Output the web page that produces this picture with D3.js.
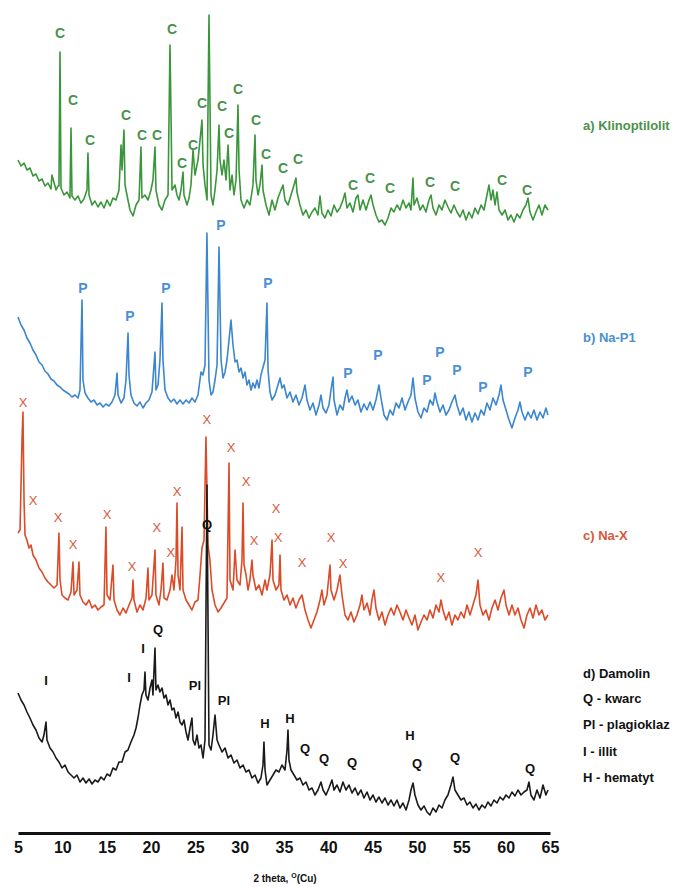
<!DOCTYPE html>
<html>
<head>
<meta charset="utf-8">
<script src="https://d3js.org/d3.v7.min.js"></script>
<style>
  body { margin: 0; background: #fff; }
  svg { display: block; font-family: "Liberation Sans", Arial, sans-serif; }
  .trace { fill: none; stroke-width: 1.6; stroke-linejoin: round; }
  .peak { text-anchor: middle; dominant-baseline: central; }
  .axis text { font-size: 16px; font-weight: bold; fill: #111; }
</style>
</head>
<body>
<svg width="683" height="887"></svg>
<script>
// 2 theta ticks
var ticks = [5, 10, 15, 20, 25, 30, 35, 40, 45, 50, 55, 60, 65];
var sampleNames = ["a) Klinoptilolit", "b) Na-P1", "c) Na-X", "d) Damolin"];
var phaseKey = ["Q - kwarc", "Pl - plagioklaz", "I - illit", "H - hematyt"];

// [2theta, intensity a.u.]
var klinoptilolit = [[5.0,73],[5.34,67],[5.68,70],[6.01,63],[6.35,65],[6.69,57],[7.03,59],[7.37,52],[7.71,54],[8.04,47],[8.38,50],[8.72,44],[8.83,58],[9.29,43],[9.51,47],[9.62,47],[9.74,181],[9.85,45],[10.19,38],[10.53,41],[10.86,35],[10.98,105],[11.09,37],[11.43,33],[11.77,37],[12.10,30],[12.44,34],[12.78,43],[12.89,80],[13.01,38],[13.35,28],[13.68,32],[14.02,26],[14.36,31],[14.70,25],[15.04,33],[15.38,27],[15.71,35],[16.05,33],[16.39,43],[16.62,88],[16.73,63],[16.95,103],[17.07,48],[17.29,38],[17.63,23],[17.97,17],[18.31,28],[18.65,33],[18.87,86],[18.98,35],[19.32,38],[19.66,33],[20.00,43],[20.22,53],[20.45,86],[20.56,43],[20.90,28],[21.24,23],[21.58,33],[21.92,38],[22.14,188],[22.25,123],[22.37,43],[22.71,48],[22.93,38],[23.16,33],[23.38,43],[23.61,61],[23.72,38],[24.06,28],[24.29,35],[24.51,48],[24.74,83],[24.96,58],[25.30,73],[25.53,93],[25.75,113],[25.87,68],[26.09,48],[26.32,33],[26.54,218],[26.77,38],[26.99,28],[27.22,43],[27.45,63],[27.67,108],[27.78,73],[28.01,58],[28.23,73],[28.46,53],[28.69,88],[28.91,43],[29.14,58],[29.36,38],[29.59,53],[29.81,128],[29.93,63],[30.15,33],[30.49,25],[30.83,33],[31.16,28],[31.50,48],[31.73,98],[31.84,53],[32.07,38],[32.29,48],[32.52,68],[32.63,43],[32.97,28],[33.31,18],[33.65,33],[33.98,23],[34.32,35],[34.66,43],[34.89,48],[35.11,33],[35.45,28],[35.79,38],[36.13,48],[36.35,55],[36.46,41],[36.80,28],[37.14,18],[37.48,23],[37.82,15],[38.16,21],[38.49,25],[38.83,18],[39.06,37],[39.28,20],[39.62,15],[39.96,23],[40.30,17],[40.64,28],[40.98,21],[41.31,25],[41.65,33],[41.88,40],[42.10,25],[42.44,30],[42.78,21],[43.12,35],[43.34,38],[43.57,23],[43.91,33],[44.25,23],[44.59,33],[44.81,38],[45.04,28],[45.37,18],[45.71,11],[46.05,13],[46.39,8],[46.73,15],[47.07,25],[47.40,21],[47.74,28],[48.08,23],[48.42,33],[48.76,25],[49.10,30],[49.32,23],[49.55,55],[49.66,28],[50.00,35],[50.34,23],[50.67,28],[51.01,21],[51.35,33],[51.58,38],[51.80,25],[52.14,18],[52.48,28],[52.82,23],[53.15,33],[53.49,26],[53.83,20],[54.17,28],[54.51,21],[54.85,16],[55.19,23],[55.53,13],[55.86,21],[56.20,15],[56.54,25],[56.88,19],[57.22,28],[57.56,23],[57.89,38],[58.12,48],[58.35,33],[58.57,43],[58.80,28],[59.02,41],[59.25,23],[59.59,18],[59.93,23],[60.26,13],[60.60,18],[60.94,11],[61.28,19],[61.61,15],[61.95,23],[62.29,28],[62.52,35],[62.74,21],[63.08,13],[63.42,21],[63.76,28],[64.09,18],[64.43,28],[64.77,23]];

var naP1 = [[5.0,116],[5.34,108],[5.68,103],[6.01,95],[6.35,90],[6.69,83],[7.03,78],[7.37,71],[7.71,68],[8.04,62],[8.38,59],[8.72,54],[9.06,52],[9.40,48],[9.74,46],[10.08,43],[10.41,41],[10.75,39],[11.09,36],[11.43,38],[11.77,35],[11.99,43],[12.22,133],[12.33,53],[12.56,40],[12.89,35],[13.23,31],[13.57,33],[13.91,28],[14.25,30],[14.59,26],[14.92,29],[15.26,27],[15.60,31],[15.94,38],[16.17,60],[16.28,38],[16.62,30],[16.95,35],[17.18,53],[17.41,100],[17.52,58],[17.74,38],[18.08,30],[18.42,27],[18.76,31],[19.10,25],[19.44,30],[19.77,33],[20.11,41],[20.45,81],[20.56,43],[20.79,48],[21.01,73],[21.24,130],[21.35,73],[21.58,43],[21.92,35],[22.25,31],[22.59,34],[22.93,29],[23.27,33],[23.61,29],[23.95,33],[24.29,30],[24.62,35],[24.96,31],[25.30,38],[25.64,61],[25.86,58],[26.09,68],[26.31,200],[26.54,53],[26.77,38],[26.99,41],[27.22,53],[27.45,68],[27.67,186],[27.90,73],[28.12,55],[28.35,61],[28.57,73],[28.80,93],[29.02,113],[29.25,88],[29.48,71],[29.70,73],[29.93,61],[30.15,65],[30.38,55],[30.60,61],[30.83,48],[31.05,53],[31.28,43],[31.50,50],[31.73,45],[31.95,53],[32.18,45],[32.40,58],[32.86,73],[33.08,130],[33.20,63],[33.42,41],[33.65,33],[33.98,38],[34.32,48],[34.55,55],[34.77,45],[35.00,48],[35.34,35],[35.68,41],[36.01,31],[36.35,38],[36.69,28],[37.03,35],[37.37,48],[37.59,33],[37.93,23],[38.27,30],[38.61,18],[38.95,28],[39.17,38],[39.40,25],[39.74,20],[40.07,28],[40.30,43],[40.53,56],[40.64,33],[40.98,18],[41.31,28],[41.65,23],[41.88,35],[42.10,43],[42.33,31],[42.67,37],[43.01,28],[43.34,33],[43.68,21],[44.02,29],[44.36,23],[44.70,31],[45.04,23],[45.37,33],[45.71,48],[45.94,35],[46.28,18],[46.62,13],[46.95,23],[47.29,18],[47.63,30],[47.97,25],[48.31,35],[48.65,23],[48.98,31],[49.32,38],[49.55,55],[49.77,35],[50.11,21],[50.45,15],[50.79,25],[51.13,21],[51.46,33],[51.80,28],[52.03,40],[52.25,31],[52.59,21],[52.93,28],[53.27,18],[53.61,23],[53.94,31],[54.28,38],[54.51,28],[54.85,18],[55.19,25],[55.53,13],[55.86,21],[56.20,11],[56.54,20],[56.88,13],[57.22,23],[57.56,18],[57.89,30],[58.23,23],[58.57,35],[58.91,28],[59.25,38],[59.47,48],[59.70,33],[60.04,23],[60.38,13],[60.71,5],[61.05,15],[61.39,23],[61.61,31],[61.84,21],[62.18,13],[62.52,21],[62.86,15],[63.19,23],[63.53,13],[63.87,21],[64.21,15],[64.54,25],[64.77,18]];

var naX = [[5.0,100],[5.23,103],[5.45,193],[5.56,221],[5.68,133],[5.79,98],[6.01,93],[6.24,85],[6.47,88],[6.69,78],[7.03,73],[7.37,65],[7.71,61],[8.04,55],[8.38,51],[8.72,48],[9.06,45],[9.40,48],[9.62,100],[9.74,53],[9.96,38],[10.30,35],[10.64,33],[10.98,41],[11.20,71],[11.32,38],[11.65,43],[11.88,71],[11.99,38],[12.33,31],[12.67,28],[13.01,33],[13.35,25],[13.68,28],[14.02,23],[14.36,26],[14.70,28],[14.92,106],[15.04,38],[15.38,33],[15.71,68],[15.83,33],[16.17,23],[16.50,18],[16.84,25],[17.18,20],[17.52,28],[17.86,35],[17.97,53],[18.08,33],[18.42,21],[18.76,28],[19.10,23],[19.44,35],[19.66,65],[19.77,33],[20.11,38],[20.45,83],[20.56,38],[20.90,28],[21.13,43],[21.35,70],[21.47,35],[21.80,33],[22.14,43],[22.37,58],[22.59,43],[22.82,73],[22.93,130],[23.05,58],[23.27,43],[23.50,106],[23.61,43],[23.95,33],[24.29,28],[24.62,23],[24.96,31],[25.30,33],[25.53,58],[25.75,85],[25.98,93],[26.20,196],[26.43,88],[26.65,73],[26.88,43],[27.22,28],[27.56,21],[27.89,25],[28.23,30],[28.57,35],[28.80,170],[28.91,53],[29.25,43],[29.48,83],[29.70,53],[30.04,48],[30.26,73],[30.38,130],[30.49,68],[30.72,58],[30.94,43],[31.16,53],[31.39,73],[31.50,58],[31.84,43],[32.18,48],[32.52,38],[32.86,53],[33.08,43],[33.42,58],[33.65,93],[33.76,53],[34.10,43],[34.43,48],[34.55,78],[34.66,43],[35.00,33],[35.34,38],[35.68,28],[36.01,35],[36.35,25],[36.69,33],[37.03,38],[37.37,23],[37.71,13],[38.04,5],[38.38,13],[38.72,21],[39.06,33],[39.28,43],[39.51,28],[39.85,38],[40.19,68],[40.30,43],[40.64,33],[40.98,43],[41.31,58],[41.54,38],[41.88,18],[42.22,13],[42.55,21],[42.89,11],[43.23,18],[43.57,28],[43.79,38],[44.02,23],[44.36,30],[44.70,18],[44.92,33],[45.15,43],[45.37,25],[45.71,13],[46.05,21],[46.39,8],[46.73,18],[47.07,25],[47.40,18],[47.74,28],[48.08,21],[48.42,13],[48.76,23],[49.10,15],[49.43,8],[49.77,18],[50.11,3],[50.45,11],[50.79,18],[51.13,13],[51.46,23],[51.80,15],[52.14,28],[52.48,21],[52.70,33],[52.93,23],[53.27,13],[53.61,21],[53.94,8],[54.28,18],[54.62,13],[54.96,21],[55.30,15],[55.64,28],[55.98,18],[56.31,28],[56.65,38],[56.88,53],[57.10,28],[57.44,18],[57.78,23],[58.12,13],[58.46,25],[58.80,33],[59.13,23],[59.47,35],[59.81,43],[60.04,28],[60.38,18],[60.71,28],[61.05,18],[61.39,25],[61.73,13],[62.07,5],[62.40,18],[62.74,25],[63.08,15],[63.42,28],[63.76,18],[64.09,23],[64.43,13],[64.77,18]];

var damolin = [[5.0,140],[5.34,133],[5.68,128],[6.01,121],[6.35,115],[6.69,108],[7.03,103],[7.37,95],[7.71,91],[7.93,98],[8.16,111],[8.27,93],[8.61,85],[8.95,81],[9.29,75],[9.62,71],[9.96,65],[10.30,68],[10.64,61],[10.98,58],[11.32,55],[11.65,58],[11.99,51],[12.33,55],[12.67,50],[13.01,54],[13.35,49],[13.68,53],[14.02,51],[14.36,56],[14.70,53],[15.04,59],[15.38,57],[15.71,65],[16.05,63],[16.39,71],[16.73,71],[17.07,81],[17.40,83],[17.74,91],[18.08,98],[18.31,105],[18.53,115],[18.76,128],[18.98,138],[19.21,143],[19.32,161],[19.43,138],[19.66,133],[19.89,145],[20.11,153],[20.22,138],[20.45,185],[20.56,143],[20.79,148],[21.01,141],[21.24,145],[21.47,135],[21.69,138],[21.92,128],[22.14,133],[22.37,123],[22.59,125],[22.82,115],[23.05,121],[23.27,111],[23.50,108],[23.72,113],[23.95,101],[24.17,93],[24.40,105],[24.62,115],[24.74,93],[24.96,88],[25.19,98],[25.41,85],[25.64,88],[25.87,75],[26.09,93],[26.31,348],[26.54,88],[26.77,83],[26.99,98],[27.22,118],[27.45,93],[27.67,88],[28.01,81],[28.35,85],[28.69,75],[29.02,78],[29.36,70],[29.70,73],[30.04,65],[30.38,68],[30.71,61],[31.05,63],[31.39,55],[31.73,58],[32.07,50],[32.40,55],[32.63,68],[32.74,91],[32.86,63],[33.08,48],[33.42,53],[33.76,58],[34.10,63],[34.43,61],[34.77,68],[35.11,63],[35.34,83],[35.45,103],[35.56,73],[35.79,63],[36.13,58],[36.46,53],[36.80,55],[37.14,48],[37.48,51],[37.82,43],[38.16,45],[38.49,38],[38.83,43],[39.17,51],[39.40,43],[39.74,38],[40.07,45],[40.41,53],[40.64,43],[40.98,48],[41.31,41],[41.65,51],[41.99,43],[42.33,48],[42.67,40],[43.01,45],[43.34,38],[43.68,43],[44.02,35],[44.36,41],[44.70,33],[45.04,38],[45.37,31],[45.71,36],[46.05,30],[46.39,35],[46.73,28],[47.07,33],[47.40,27],[47.74,33],[48.08,25],[48.42,30],[48.76,23],[49.10,33],[49.32,43],[49.55,50],[49.77,38],[50.11,28],[50.45,23],[50.79,27],[51.13,21],[51.46,18],[51.80,25],[52.14,21],[52.48,28],[52.82,25],[53.15,33],[53.49,38],[53.83,48],[54.06,56],[54.28,43],[54.62,38],[54.96,33],[55.30,35],[55.64,28],[55.98,31],[56.31,25],[56.65,29],[56.99,23],[57.33,28],[57.67,25],[58.00,31],[58.34,27],[58.68,33],[59.02,30],[59.36,36],[59.70,33],[60.04,38],[60.38,35],[60.71,41],[61.05,37],[61.39,43],[61.73,38],[62.07,41],[62.40,43],[62.63,51],[62.85,38],[63.19,33],[63.53,43],[63.87,35],[64.21,48],[64.54,38],[64.77,43]];

// peak markers [2theta, level]
var cPeaks = [[9.74,200],[11.20,133],[13.12,93],[17.18,118],[18.98,98],[20.67,98],[22.37,204],[23.50,70],[24.74,88],[25.75,130],[28.01,127],[28.80,100],[29.81,144],[31.84,113],[32.97,79],[34.89,65],[36.58,74],[42.78,48],[44.70,55],[46.95,45],[51.46,51],[54.28,47],[59.59,53],[62.40,43]];
var pPeaks = [[12.33,145],[17.63,117],[21.69,145],[27.89,208],[33.20,150],[42.22,60],[45.60,78],[51.13,53],[52.59,81],[54.51,63],[57.44,46],[62.52,61]];
var xPeaks = [[5.56,231],[6.69,133],[9.51,116],[11.20,89],[15.04,119],[17.86,67],[20.67,106],[22.25,81],[22.93,142],[26.31,214],[29.02,186],[30.72,152],[31.62,93],[34.10,125],[34.32,96],[37.03,71],[40.30,96],[41.65,70],[52.70,56],[56.88,81]];
var dPeaks = [["I",8.16,153],["I",17.52,156],["I",19.10,185],["Q",20.79,204],["Pl",24.96,148],["Q",26.31,309],["Pl",28.23,133],["H",32.86,110],["H",35.68,115],["Q",37.37,85],["Q",39.51,75],["Q",42.67,71],["H",49.21,98],["Q",50.00,70],["Q",54.28,76],["Q",62.74,65]];

var svg = d3.select("svg");

var x = d3.scaleLinear().domain([5, 65]).range([18, 550]);
var y = d3.scaleLinear().domain([0, 820]).range([833, 13]);

var traces = [
  {data: klinoptilolit, off: 600, color: "#3a963a", lab: "#4a924a", mark: "C", peaks: cPeaks, fs: 14},
  {data: naP1, off: 400, color: "#3b86cf", lab: "#4b8fd4", mark: "P", peaks: pPeaks, fs: 14},
  {data: naX, off: 200, color: "#dc4b28", lab: "#d9583a", mark: "X", peaks: xPeaks, fs: 13},
  {data: damolin, off: 0, color: "#1a1a1a", lab: "#111", mark: null, peaks: dPeaks, fs: 13}
];

traces.forEach(function(t) {
  var line = d3.line()
    .x(function(d) { return x(d[0]); })
    .y(function(d) { return y(d[1] + t.off); });
  svg.append("path")
    .datum(t.data)
    .attr("class", "trace")
    .attr("stroke", t.color)
    .attr("d", line);
});

traces.forEach(function(t) {
  svg.append("g").selectAll("text")
    .data(t.peaks)
    .enter().append("text")
    .attr("class", "peak")
    .attr("x", function(d) { return t.mark ? x(d[0]) : x(d[1]); })
    .attr("y", function(d) { return t.mark ? y(d[1] + t.off) : y(d[2] + t.off); })
    .attr("fill", t.lab)
    .style("font-size", t.fs + "px")
    .style("font-weight", t.mark === "X" ? "normal" : "bold")
    .text(function(d) { return t.mark ? t.mark : d[0]; });
});

// sample names on the right
var nameY = [125, 337, 535, 673];
svg.append("g").selectAll("text")
  .data(sampleNames)
  .enter().append("text")
  .attr("x", 583)
  .attr("y", function(d, i) { return nameY[i]; })
  .attr("dominant-baseline", "central")
  .attr("fill", function(d, i) { return traces[i].lab; })
  .style("font-size", "13px")
  .style("font-weight", "bold")
  .text(function(d) { return d; });

svg.append("g").selectAll("text")
  .data(phaseKey)
  .enter().append("text")
  .attr("x", 583)
  .attr("y", function(d, i) { return 698 + i * 26.5; })
  .attr("dominant-baseline", "central")
  .attr("fill", "#111")
  .style("font-size", "13px")
  .style("font-weight", "bold")
  .text(function(d) { return d; });

// x axis
var xAxis = d3.axisBottom(x).tickValues(ticks).tickSize(0).tickPadding(9).tickSizeOuter(0);
var gx = svg.append("g")
  .attr("class", "axis")
  .attr("transform", "translate(0,833)")
  .call(xAxis);
gx.select(".domain").attr("stroke", "#111").attr("stroke-width", 3);

var title = svg.append("text")
  .attr("x", 285)
  .attr("y", 882)
  .attr("text-anchor", "middle")
  .attr("fill", "#111")
  .style("font-size", "10px")
  .style("font-weight", "bold");
title.append("tspan").text("2 theta, ");
title.append("tspan").attr("dy", -4).style("font-size", "7px").text("O");
title.append("tspan").attr("dy", 4).text("(Cu)");
</script>
</body>
</html>
